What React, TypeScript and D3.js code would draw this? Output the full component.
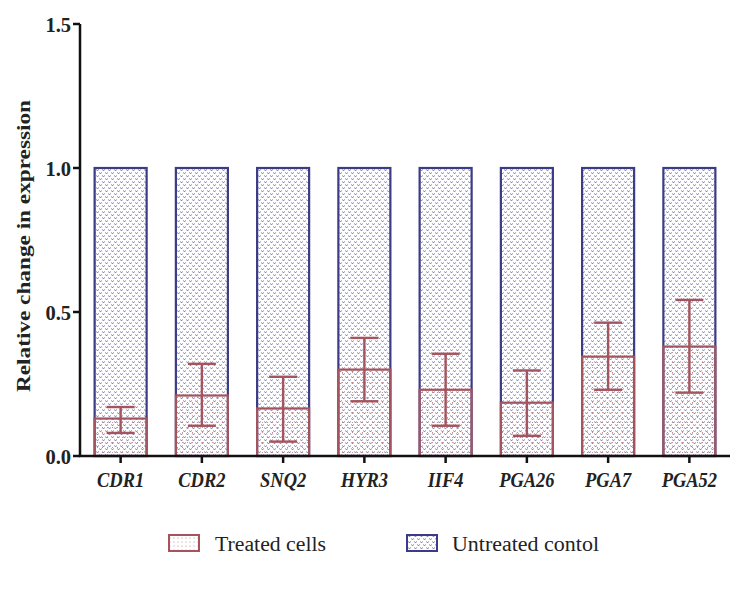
import React from "react";
import { scaleBand, scaleLinear } from "d3";

const genes = ["CDR1", "CDR2", "SNQ2", "HYR3", "IIF4", "PGA26", "PGA7", "PGA52"];
const untreated = [1, 1, 1, 1, 1, 1, 1, 1];
const treated = [0.13, 0.21, 0.165, 0.3, 0.23, 0.185, 0.345, 0.38];
const errLow = [0.08, 0.105, 0.05, 0.19, 0.105, 0.07, 0.23, 0.22];
const errHigh = [0.17, 0.32, 0.275, 0.41, 0.355, 0.297, 0.463, 0.542];
const yTicks = [0, 0.5, 1.0, 1.5];

const width = 752;
const height = 603;
const blue = "#3b3b86";
const red = "#a4545e";
const font = "'Liberation Serif', 'Times New Roman', serif";

const App = () => {
  const x = scaleBand().domain(genes).range([80, 730]).paddingInner(0.36).paddingOuter(0.18);
  const y = scaleLinear().domain([0, 1.5]).range([456, 24]);
  const capHalf = 14;
  const cx = (g: string) => x(g)! + x.bandwidth() / 2;

  return (
    <svg width={width} height={height} style={{ position: "absolute", left: 0, top: 0 }}>
      <defs>
        <pattern id="blueDots" width="6" height="6" patternUnits="userSpaceOnUse">
          <rect width="6" height="6" fill="#ffffff" />
          <path d="M0.4,1.4 L1.5,3 L2.6,1.4" stroke="#7676ac" strokeWidth="0.9" fill="none" />
          <path d="M3.4,4.4 L4.5,6 L5.6,4.4" stroke="#7676ac" strokeWidth="0.9" fill="none" />
        </pattern>
        <pattern id="redDots" width="5" height="5" patternUnits="userSpaceOnUse">
          <circle cx="2.5" cy="2.5" r="0.6" fill="#c07880" />
        </pattern>
        <pattern id="legendRed" width="4" height="4" patternUnits="userSpaceOnUse">
          <rect width="4" height="4" fill="#fff" />
          <circle cx="2" cy="2" r="0.5" fill="#b07078" />
        </pattern>
      </defs>
      <rect width={width} height={height} fill="#fff" />

      {genes.map((g, i) => (
        <g key={g}>
          <rect
            x={x(g)}
            y={y(untreated[i])}
            width={x.bandwidth()}
            height={y(0) - y(untreated[i])}
            fill="url(#blueDots)"
            stroke={blue}
            strokeWidth={2.2}
          />
          <rect
            x={x(g)}
            y={y(treated[i])}
            width={x.bandwidth()}
            height={y(0) - y(treated[i])}
            fill="url(#redDots)"
            stroke={red}
            strokeWidth={2.2}
          />
          <g stroke={red} strokeWidth={2.4}>
            <line x1={cx(g)} x2={cx(g)} y1={y(errLow[i])} y2={y(errHigh[i])} />
            <line x1={cx(g) - capHalf} x2={cx(g) + capHalf} y1={y(errLow[i])} y2={y(errLow[i])} />
            <line x1={cx(g) - capHalf} x2={cx(g) + capHalf} y1={y(errHigh[i])} y2={y(errHigh[i])} />
          </g>
        </g>
      ))}

      {/* axes */}
      <line x1={80} x2={80} y1={y(1.5)} y2={y(0)} stroke="#111" strokeWidth={2.5} />
      <line x1={78.75} x2={730} y1={y(0)} y2={y(0)} stroke="#111" strokeWidth={2.5} />
      {yTicks.map((t) => (
        <g key={t}>
          <line x1={73} x2={80} y1={y(t)} y2={y(t)} stroke="#111" strokeWidth={2.5} />
          <text
            x={71}
            y={y(t) + 8}
            textAnchor="end"
            fontFamily={font}
            fontWeight="bold"
            fontSize={20.5}
            fill="#222"
          >
            {t.toFixed(1)}
          </text>
        </g>
      ))}
      {genes.map((g) => (
        <g key={g}>
          <line x1={cx(g)} x2={cx(g)} y1={y(0)} y2={y(0) + 7} stroke="#111" strokeWidth={2.5} />
          <text
            transform={`translate(${cx(g)},487) scale(1,1.12)`}
            textAnchor="middle"
            fontFamily={font}
            fontWeight="bold"
            fontStyle="italic"
            fontSize={18.5}
            fill="#222"
          >
            {g}
          </text>
        </g>
      ))}
      <text
        transform="translate(30,246) rotate(-90)"
        textAnchor="middle"
        fontFamily={font}
        fontWeight="bold"
        fontSize={19}
        textLength={292}
        lengthAdjust="spacingAndGlyphs"
        fill="#222"
      >
        Relative change in expression
      </text>

      {/* legend */}
      <rect x={169} y={535} width={30} height={16} fill="url(#legendRed)" stroke={red} strokeWidth={2} />
      <text
        x={215}
        y={551}
        fontFamily={font}
        fontSize={20}
        textLength={111}
        lengthAdjust="spacingAndGlyphs"
        fill="#222"
      >
        Treated cells
      </text>
      <rect x={407} y={535} width={30} height={16} fill="url(#blueDots)" stroke={blue} strokeWidth={2} />
      <text
        x={452}
        y={551}
        fontFamily={font}
        fontSize={20}
        textLength={147}
        lengthAdjust="spacingAndGlyphs"
        fill="#222"
      >
        Untreated contol
      </text>
    </svg>
  );
};

export default App;
